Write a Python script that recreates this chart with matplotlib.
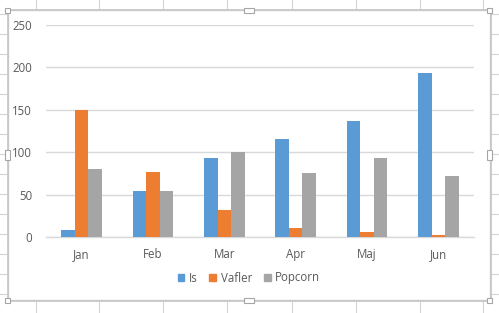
import numpy as np
import matplotlib
matplotlib.use("Agg")
import matplotlib.pyplot as plt
from matplotlib.patches import Rectangle

## DATA ##
maaneder = ['Jan', 'Feb', 'Mar', 'Apr', 'Maj', 'Jun']
serier = ['Is', 'Vafler', 'Popcorn']
is_vaerdier = [8, 54, 93, 116, 137, 193]
vafler_vaerdier = [150, 77, 32, 11, 6, 2]
popcorn_vaerdier = [80, 54, 100, 75, 93, 72]
y_ticks = [0, 50, 100, 150, 200, 250]

farver = ['#5B9BD5', '#ED7D31', '#A5A5A5']
tekst_farve = '#595959'
grid_farve = '#D9D9D9'

plt.rcParams['font.family'] = ['Open Sans', 'DejaVu Sans']

W, H = 499, 313
fig = plt.figure(figsize=(W / 100, H / 100), dpi=100)

## REGNEARK BAGGRUND ##
bg = fig.add_axes([0, 0, 1, 1])
bg.set_xlim(0, W)
bg.set_ylim(H, 0)
bg.axis('off')
for x in [36, 99, 163, 227, 292, 356, 420, 483]:
    bg.plot([x, x], [0, H], color='#D4D4D4', lw=0.8, zorder=1)
for y in range(14, H, 20):
    bg.plot([0, W], [y, y], color='#D4D4D4', lw=0.8, zorder=1)
# diagramramme
bg.add_patch(Rectangle((8, 10), 482, 290, facecolor='white', edgecolor='#C8C8C8', lw=2.0, zorder=5))
bg.add_patch(Rectangle((9, 11), 480, 288, facecolor='none', edgecolor='white', lw=0.6, zorder=6))
for hx, hy in [(8, 10), (249, 10), (490, 10), (8, 155), (490, 155), (8, 300), (249, 300), (490, 300)]:
    if hx == 249:
        w, h = 10, 5
    elif hy == 155:
        w, h = 5, 10
    else:
        w, h = 5, 5
    bg.add_patch(Rectangle((hx - w / 2, hy - h / 2), w, h, facecolor='white', edgecolor='#A6A6A6', lw=0.8, zorder=7))

## DIAGRAM ##
ax = fig.add_axes([46 / W, 1 - 237 / H, (474 - 46) / W, (237 - 25) / H])
ax.patch.set_alpha(0)
x = np.arange(len(maaneder))
bredde = 0.19
for i, (vaerdier, navn) in enumerate(zip([is_vaerdier, vafler_vaerdier, popcorn_vaerdier], serier)):
    ax.bar(x + (i - 1) * bredde, vaerdier, bredde, color=farver[i], label=navn, zorder=3)

ax.set_xlim(-0.5, len(maaneder) - 0.5)
ax.set_ylim(0, 250)
ax.set_yticks(y_ticks)
ax.set_xticks(x)
ax.set_xticklabels(maaneder)
ax.yaxis.grid(True, color=grid_farve, lw=1)
ax.set_axisbelow(True)
for s in ['top', 'right', 'left']:
    ax.spines[s].set_visible(False)
ax.spines['bottom'].set_color(grid_farve)
ax.spines['bottom'].set_linewidth(1)
ax.tick_params(axis='both', length=0, labelsize=8.3, colors=tekst_farve)
ax.tick_params(axis='y', pad=10)
ax.tick_params(axis='x', pad=8)

handles = [Rectangle((0, 0), 1, 1, color=c) for c in farver]
fig.legend(handles, serier, loc='center', bbox_to_anchor=(249 / W, 1 - 278 / H), ncol=3,
           frameon=False, fontsize=8.3, handlelength=0.6, handleheight=0.6,
           handletextpad=0.4, columnspacing=1.0, labelcolor=tekst_farve)

fig.savefig('out.png', dpi=100)
